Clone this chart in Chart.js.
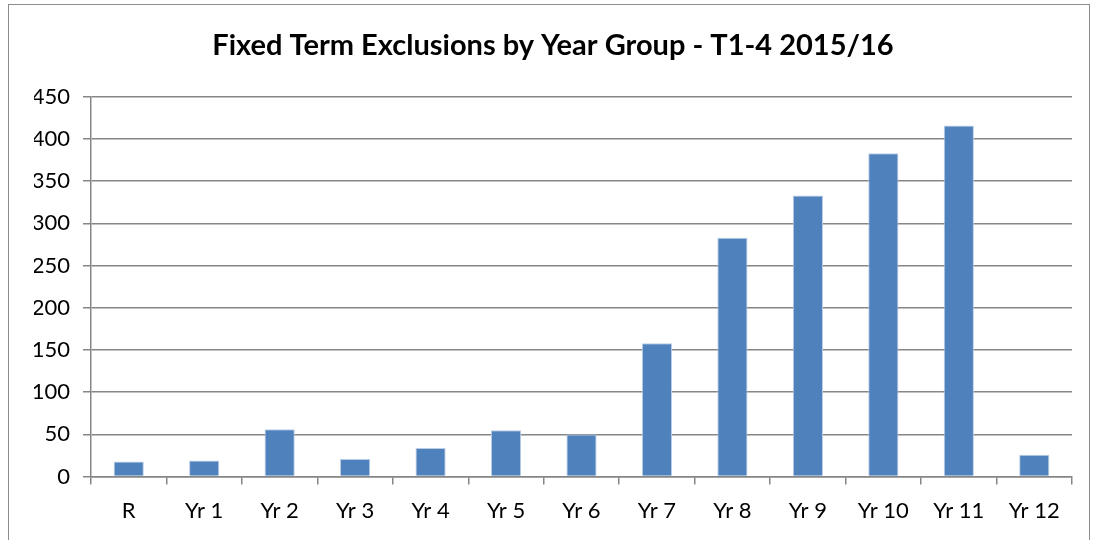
<!DOCTYPE html>
<html lang="en">
<head>
  <meta charset="UTF-8">
  <title>Fixed Term Exclusions by Year Group</title>
  <style>
    html, body {
      margin: 0;
      padding: 0;
      background: #fff;
      overflow: hidden;
    }
    #wrap {
      position: relative;
      width: 1094px;
      height: 540px;
    }
    #frame {
      position: absolute;
      left: 8px;
      top: 4px;
      width: 1082px;
      height: 600px;
      border: 1px solid #8c8c8c;
      box-sizing: border-box;
      pointer-events: none;
    }
    canvas {
      position: absolute;
      left: 0;
      top: 0;
    }
  </style>
</head>
<body>
  <div id="wrap">
    <canvas id="chartCanvas" width="1094" height="540"></canvas>
    <div id="frame"></div>
  </div>

  <script src="https://cdn.jsdelivr.net/npm/chart.js"></script>
  <script>
    const yearGroups = ['R', 'Yr 1', 'Yr 2', 'Yr 3', 'Yr 4', 'Yr 5', 'Yr 6',
                        'Yr 7', 'Yr 8', 'Yr 9', 'Yr 10', 'Yr 11', 'Yr 12'];
    const exclusions = [18, 19, 56, 21, 34, 55, 50, 158, 283, 333, 383, 416, 26];
    const chartTitle = 'Fixed Term Exclusions by Year Group - T1-4 2015/16';

    const gridGrey = '#868686';

    const ctx = document.getElementById('chartCanvas').getContext('2d');
    new Chart(ctx, {
      type: 'bar',
      data: {
        labels: yearGroups,
        datasets: [{
          label: 'Exclusions',
          data: exclusions,
          backgroundColor: '#4f81bd',
          borderColor: '#b9cde5',
          borderWidth: { top: 1, left: 1, right: 1, bottom: 0 },
          categoryPercentage: 1,
          barPercentage: 0.4
        }]
      },
      options: {
        responsive: false,
        animation: false,
        layout: {
          padding: { left: 34, right: 22, top: 20, bottom: 3 }
        },
        plugins: {
          legend: { display: false },
          tooltip: { enabled: false },
          title: {
            display: true,
            text: chartTitle,
            color: '#000',
            font: { family: 'Lato', size: 29, weight: 'bold' },
            padding: { top: 8, bottom: 34 }
          }
        },
        scales: {
          x: {
            offset: true,
            grid: {
              offset: true,
              drawOnChartArea: false,
              drawTicks: true,
              tickLength: 8,
              color: gridGrey,
              lineWidth: 1.5
            },
            border: { color: gridGrey, width: 1.5 },
            ticks: {
              color: '#000',
              padding: 13,
              font: { family: 'Lato', size: 22 }
            }
          },
          y: {
            min: 0,
            max: 450,
            // keep the plot's left edge where the original has it
            afterFit: (scale) => { scale.width = 57; },
            ticks: {
              stepSize: 50,
              color: '#000',
              padding: 13,
              font: { family: 'Lato', size: 22 }
            },
            grid: {
              color: gridGrey,
              lineWidth: 1.5,
              tickLength: 8
            },
            border: { color: gridGrey, width: 1.5 }
          }
        }
      }
    });
  </script>
</body>
</html>
